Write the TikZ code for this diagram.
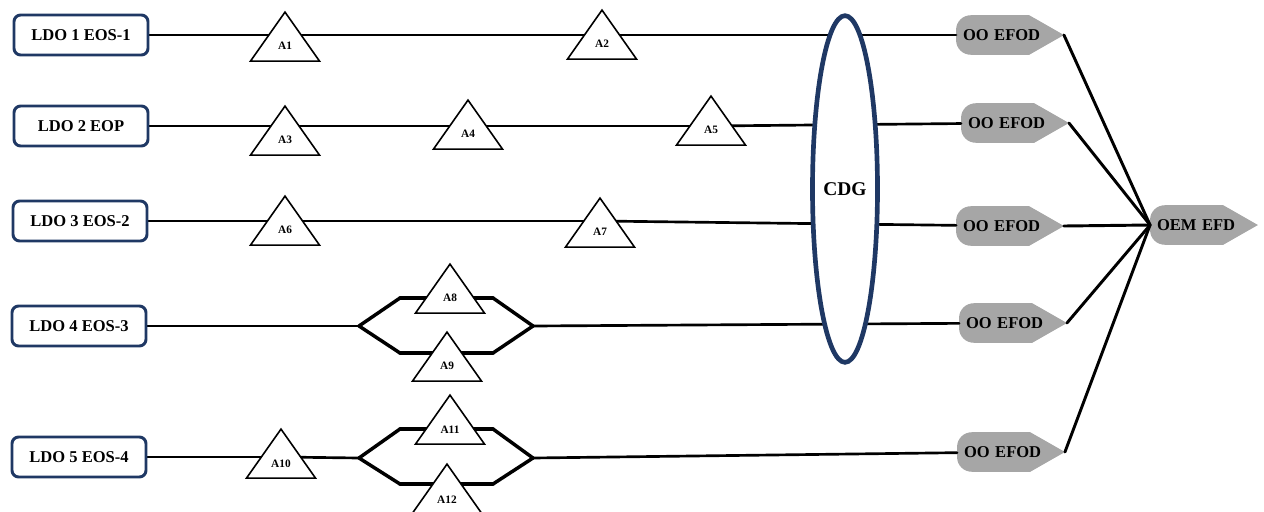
\documentclass[tikz,border=0pt]{standalone}
\usepackage{fontspec}
\setmainfont{Liberation Serif}
\usetikzlibrary{shapes.geometric,backgrounds}
\definecolor{ldoblue}{RGB}{31,56,100}
\definecolor{efodgray}{RGB}{166,166,166}
\tikzset{
  ldo/.style={draw=ldoblue, line width=2.2pt, rounded corners=5pt, fill=white,
    minimum width=100.5pt, minimum height=30pt, font=\fontsize{12.4}{14}\selectfont\bfseries},
  amp/.style={isosceles triangle, isosceles triangle stretches, shape border rotate=90,
    minimum width=51.75pt, minimum height=36.75pt, inner sep=0pt, draw, fill=white,
    line width=1.2pt, anchor=apex, font=\fontsize{8.5}{9}\selectfont\bfseries},
  efod/.style={minimum height=29.25pt, text width=70.5pt, align=left, inner xsep=5pt,
    font=\fontsize{12.4}{14}\selectfont\bfseries},
  cdgring/.style={ellipse, draw=ldoblue, line width=3.5pt, fill=white, inner sep=0pt,
    minimum width=48.75pt, minimum height=260pt, font=\fontsize{14.6}{16}\selectfont\bfseries}
}
\begin{document}
\begin{tikzpicture}[x=0.75pt, y=-0.75pt]
  \useasboundingbox (0,0) rectangle (1264,511);

  \begin{scope}[every node/.style={ldo}]
    \node (l1) at (81,35)  {LDO 1 EOS-1};
    \node (l2) at (81,126) {LDO 2 EOP};
    \node (l3) at (80,221) {LDO 3 EOS-2};
    \node (l4) at (79,326) {LDO 4 EOS-3};
    \node (l5) at (79,457) {LDO 5 EOS-4};
  \end{scope}

  \begin{scope}[every node/.style={amp}]
    \node (a1)  at (285,10)  {A1};
    \node (a2)  at (602,8)   {A2};
    \node (a3)  at (285,104) {A3};
    \node (a4)  at (468,98)  {A4};
    \node (a5)  at (711,94)  {A5};
    \node (a6)  at (285,194) {A6};
    \node (a7)  at (600,196) {A7};
    \node (a8)  at (450,262) {A8};
    \node (a9)  at (447,330) {A9};
    \node (a10) at (281,427) {A10};
    \node (a11) at (450,393) {A11};
    \node (a12) at (447,462) {A12};
  \end{scope}

  \node[cdgring] (cdg) at (845,189) {CDG};

  \begin{scope}[every node/.style={efod}]
    \node (o1)  at (1010,35)  {OO EFOD};
    \node (o2)  at (1015,123) {OO EFOD};
    \node (o3)  at (1010,226) {OO EFOD};
    \node (o4)  at (1013,323) {OO EFOD};
    \node (o5)  at (1011,452) {OO EFOD};
    \node (oem) at (1204,225) {OEM EFD};
  \end{scope}

  \coordinate (s4w)  at (359,326);
  \coordinate (s4nw) at (400,298);
  \coordinate (s4ne) at (493,298);
  \coordinate (s4e)  at (533,326);
  \coordinate (s4sw) at (400,353);
  \coordinate (s4se) at (493,353);
  \coordinate (s5w)  at (359,458);
  \coordinate (s5nw) at (400,429);
  \coordinate (s5ne) at (493,429);
  \coordinate (s5e)  at (533,458);
  \coordinate (s5sw) at (400,484);
  \coordinate (s5se) at (493,484);

  \begin{scope}[on background layer]
    \foreach \n in {o1,o2,o3,o4,o5,oem}
      \fill[efodgray] ([xshift=-26pt]\n.north east) -- (\n.east)
        -- ([xshift=-26pt]\n.south east) -- ([xshift=11pt]\n.south west)
        arc[start angle=270, end angle=180, radius=11pt]
        -- ([yshift=-11pt]\n.north west)
        arc[start angle=180, end angle=90, radius=11pt] -- cycle;

    \begin{scope}[every edge/.style={draw, line width=2pt, line cap=round}]
      \path (l1) edge (a1 |- l1);
      \path (a1 |- l1) edge (a2 |- l1);
      \path (a2 |- l1) edge (o1);
      \path (l2) edge (a3 |- l2);
      \path (a3 |- l2) edge (a4 |- l2);
      \path (a4 |- l2) edge (a5 |- l2);
      \path (a5 |- l2) edge (o2);
      \path (l3) edge (a6 |- l3);
      \path (a6 |- l3) edge (a7 |- l3);
      \path (a7 |- l3) edge (o3);
      \path (l4) edge (s4w);
      \path (s4e) edge (o4);
      \path (l5) edge (a10 |- l5);
      \path (a10 |- l5) edge (s5w);
      \path (s5e) edge (o5);
    \end{scope}

    \begin{scope}[every edge/.style={draw, line width=2.6pt, line cap=round}]
      \path (s4w) edge (s4nw);
      \path (s4nw) edge (s4ne);
      \path (s4ne) edge (s4e);
      \path (s4w) edge (s4sw);
      \path (s4sw) edge (s4se);
      \path (s4se) edge (s4e);
      \path (s5w) edge (s5nw);
      \path (s5nw) edge (s5ne);
      \path (s5ne) edge (s5e);
      \path (s5w) edge (s5sw);
      \path (s5sw) edge (s5se);
      \path (s5se) edge (s5e);
    \end{scope}

    \begin{scope}[every edge/.style={draw, line width=2.2pt, line cap=round}]
      \path (o1.east) edge (oem.west);
      \path (o2.east) edge (oem.west);
      \path (o3.east) edge (oem.west);
      \path (o4.east) edge (oem.west);
      \path (o5.east) edge (oem.west);
    \end{scope}
  \end{scope}

\end{tikzpicture}
\end{document}
